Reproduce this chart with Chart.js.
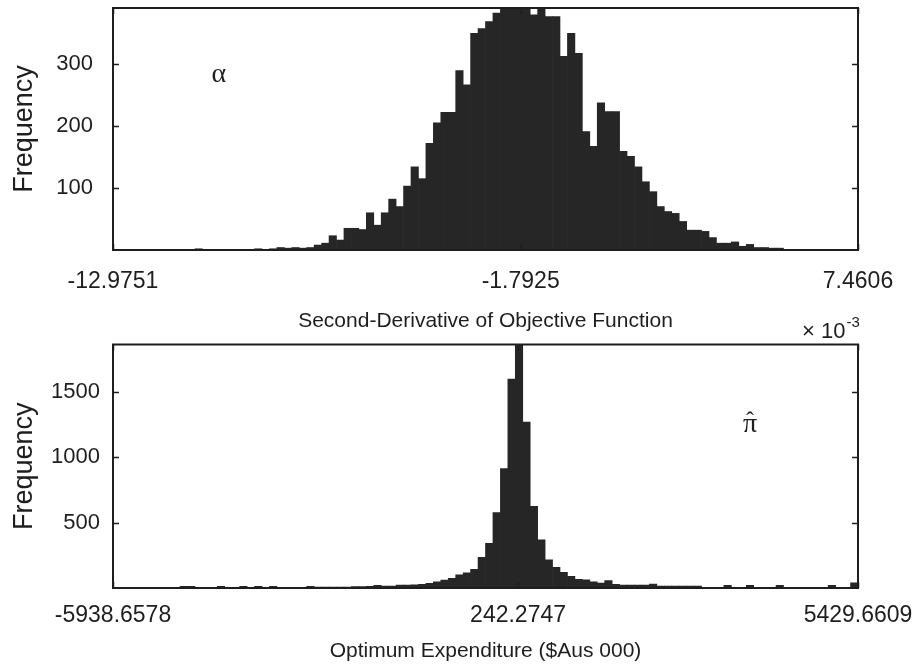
<!DOCTYPE html>
<html>
<head>
<meta charset="utf-8">
<script src="https://cdn.jsdelivr.net/npm/chart.js@4.4.1/dist/chart.umd.min.js"></script>
<style>
  html, body { margin: 0; padding: 0; background: #fff; }
  #wrap { position: relative; width: 914px; height: 668px; }
  .box { position: absolute; left: 0; width: 914px; }
  #topBox { top: 0; height: 340px; }
  #botBox { top: 340px; height: 328px; }
</style>
</head>
<body>
<div id="wrap">
  <div class="box" id="topBox"><canvas id="alphaChart" width="914" height="340" style="width:914px;height:340px"></canvas></div>
  <div class="box" id="botBox"><canvas id="piChart" width="914" height="328" style="width:914px;height:328px"></canvas></div>
</div>
<script>
// ---- Data (100 bins each)
const N_BINS = 100;

// top panel: second derivative (x 10^-3)
const alphaRange = [-12.9751, 7.4606];
const alphaXTicks = [-12.9751, -1.7925, 7.4606];
const alphaYTicks = [100, 200, 300];
const alphaYMax = 390;
const alphaCounts = [
  0, 0, 0, 0, 0, 0, 0, 0, 0, 0,
  0, 2, 0, 0, 0, 0, 0, 0, 1, 2,
  1, 2, 4, 3, 4, 3, 4, 8, 11, 23,
  16, 35, 35, 33, 60, 40, 60, 82, 70, 103,
  134, 115, 172, 205, 222, 222, 289, 266, 349, 357,
  368, 382, 393, 398, 400, 396, 379, 397, 376, 376,
  312, 349, 317, 191, 167, 237, 223, 223, 159, 151,
  134, 110, 94, 70, 62, 59, 46, 32, 32, 30,
  20, 11, 11, 13, 6, 9, 4, 4, 3, 3,
  1, 0, 0, 0, 0, 0, 0, 0, 0, 0
];

// bottom panel: optimum expenditure ($Aus 000)
const piRange = [-5938.6578, 5429.6609];
const piXTicks = [-5938.6578, 242.2747, 5429.6609];
const piYTicks = [500, 1000, 1500];
const piYMax = 1865;
const piCounts = [
  4, 5, 4, 5, 4, 4, 5, 4, 4, 12,
  12, 4, 4, 5, 12, 5, 5, 12, 5, 12,
  5, 12, 5, 6, 6, 6, 12, 8, 8, 8,
  8, 8, 10, 10, 12, 20, 14, 14, 22, 22,
  24, 28, 36, 48, 61, 74, 100, 117, 143, 235,
  342, 577, 915, 1600, 2100, 1270, 625, 368, 215, 158,
  120, 90, 67, 62, 48, 38, 56, 28, 23, 23,
  23, 23, 30, 15, 15, 15, 15, 15, 15, 5,
  5, 5, 20, 5, 5, 20, 5, 5, 5, 20,
  5, 5, 5, 5, 5, 5, 20, 5, 5, 40
];

// annotation symbols, placed in data coordinates
const alphaMark = { text: "\u03b1", hat: false, x: -10.07, y: 282 };
const piMark = { text: "\u03c0", hat: true, x: 3783, y: 1250 };

const INK = "#1e1e1e";
const SANS = '"Liberation Sans", Arial, sans-serif';
const SERIF = '"Liberation Serif", "Times New Roman", serif';

function binCenters(range, n) {
  const w = (range[1] - range[0]) / n;
  const out = [];
  for (let i = 0; i < n; i++) out.push(range[0] + (i + 0.5) * w);
  return out;
}

// frame, inward ticks and the symbol label (MATLAB look)
const framePlugin = {
  id: "frame",
  afterDatasetsDraw: function (chart, args, opts) {
    const a = chart.chartArea;
    const ctx = chart.ctx;
    const xs = chart.scales.x;
    const ys = chart.scales.y;
    const len = 6;
    ctx.save();
    ctx.strokeStyle = INK;
    ctx.lineWidth = 2;
    ctx.strokeRect(a.left, a.top, a.right - a.left, a.bottom - a.top);
    ctx.lineWidth = 1.5;
    ctx.beginPath();
    ys.ticks.forEach(function (t) {
      const py = Math.round(ys.getPixelForValue(t.value)) + 0.5;
      ctx.moveTo(a.left, py); ctx.lineTo(a.left + len, py);
      ctx.moveTo(a.right, py); ctx.lineTo(a.right - len, py);
    });
    xs.ticks.forEach(function (t) {
      const px = Math.round(xs.getPixelForValue(t.value)) + 0.5;
      ctx.moveTo(px, a.top); ctx.lineTo(px, a.top + len);
      ctx.moveTo(px, a.bottom); ctx.lineTo(px, a.bottom - len);
    });
    ctx.stroke();

    if (opts.mark) {
      const mx = xs.getPixelForValue(opts.mark.x);
      const my = ys.getPixelForValue(opts.mark.y);
      ctx.fillStyle = INK;
      ctx.font = "28px " + SERIF;
      ctx.textAlign = "center";
      ctx.textBaseline = "middle";
      ctx.fillText(opts.mark.text, mx, my);
      if (opts.mark.hat) {
        ctx.font = "24px " + SERIF;
        ctx.fillText("\u02c6", mx, my - 3);
      }
    }
    if (opts.exponent) {
      ctx.fillStyle = INK;
      ctx.textBaseline = "alphabetic";
      ctx.textAlign = "left";
      ctx.font = "22px " + SANS;
      const base = "\u00d7 10";
      const bx = a.right - 56;
      ctx.fillText(base, bx, 338);
      const bw = ctx.measureText(base).width;
      ctx.font = "15px " + SANS;
      ctx.fillText("-3", bx + bw + 1, 327);
    }
    ctx.restore();
  }
};

function makeHistogram(canvasId, cfg) {
  const centers = binCenters(cfg.range, N_BINS);
  const points = cfg.counts.map(function (c, i) { return { x: centers[i], y: c }; });

  return new Chart(document.getElementById(canvasId), {
    type: "bar",
    data: {
      datasets: [{
        data: points,
        backgroundColor: "#262626",
        borderWidth: 0,
        barPercentage: 1,
        categoryPercentage: 1,
        clip: 0
      }]
    },
    plugins: [framePlugin],
    options: {
      responsive: false,
      animation: false,
      layout: { padding: { top: cfg.padTop, right: 56, left: 0, bottom: 0 } },
      plugins: {
        legend: { display: false },
        tooltip: { enabled: false },
        frame: { mark: cfg.mark, exponent: cfg.exponent }
      },
      scales: {
        x: {
          type: "linear",
          offset: false,
          min: cfg.range[0],
          max: cfg.range[1],
          grid: { display: false, drawTicks: false },
          border: { display: false },
          afterBuildTicks: function (scale) {
            scale.ticks = cfg.xTicks.map(function (v) { return { value: v }; });
          },
          afterFit: function (scale) {
            scale.height = cfg.xHeight;
            scale.paddingLeft = 0;
            scale.paddingRight = 0;
          },
          ticks: {
            autoSkip: false,
            maxRotation: 0,
            padding: cfg.xTickPad,
            color: INK,
            font: { family: SANS, size: 23 },
            callback: function (v) { return Number(v).toFixed(4); }
          },
          title: {
            display: true,
            text: cfg.xTitle,
            color: INK,
            font: { family: SANS, size: 21 },
            padding: { top: 0, bottom: cfg.xTitlePad }
          }
        },
        y: {
          min: 0,
          max: cfg.yMax,
          grid: { display: false, drawTicks: false },
          border: { display: false },
          afterBuildTicks: function (scale) {
            scale.ticks = cfg.yTicks.map(function (v) { return { value: v }; });
          },
          afterFit: function (scale) {
            scale.width = 113;
            scale.paddingTop = 0;
            scale.paddingBottom = 0;
          },
          ticks: {
            padding: cfg.yTickPad,
            color: INK,
            font: { family: SANS, size: 22 },
            callback: function (v) { return String(v); }
          },
          title: {
            display: true,
            text: "Frequency",
            color: INK,
            font: { family: SANS, size: 27 },
            padding: { top: 8, bottom: 0 }
          }
        }
      }
    }
  });
}

document.addEventListener("DOMContentLoaded", function () {
  makeHistogram("alphaChart", {
    range: alphaRange, xTicks: alphaXTicks, yTicks: alphaYTicks, yMax: alphaYMax,
    counts: alphaCounts, xTitle: "Second-Derivative of Objective Function",
    padTop: 8, xHeight: 90, xTickPad: 18, xTitlePad: 6, yTickPad: 20,
    mark: alphaMark, exponent: true
  });
  makeHistogram("piChart", {
    range: piRange, xTicks: piXTicks, yTicks: piYTicks, yMax: piYMax,
    counts: piCounts, xTitle: "Optimum Expenditure ($Aus 000)",
    padTop: 4.5, xHeight: 80, xTickPad: 14, xTitlePad: 4, yTickPad: 13,
    mark: piMark, exponent: false
  });
});
</script>
</body>
</html>
